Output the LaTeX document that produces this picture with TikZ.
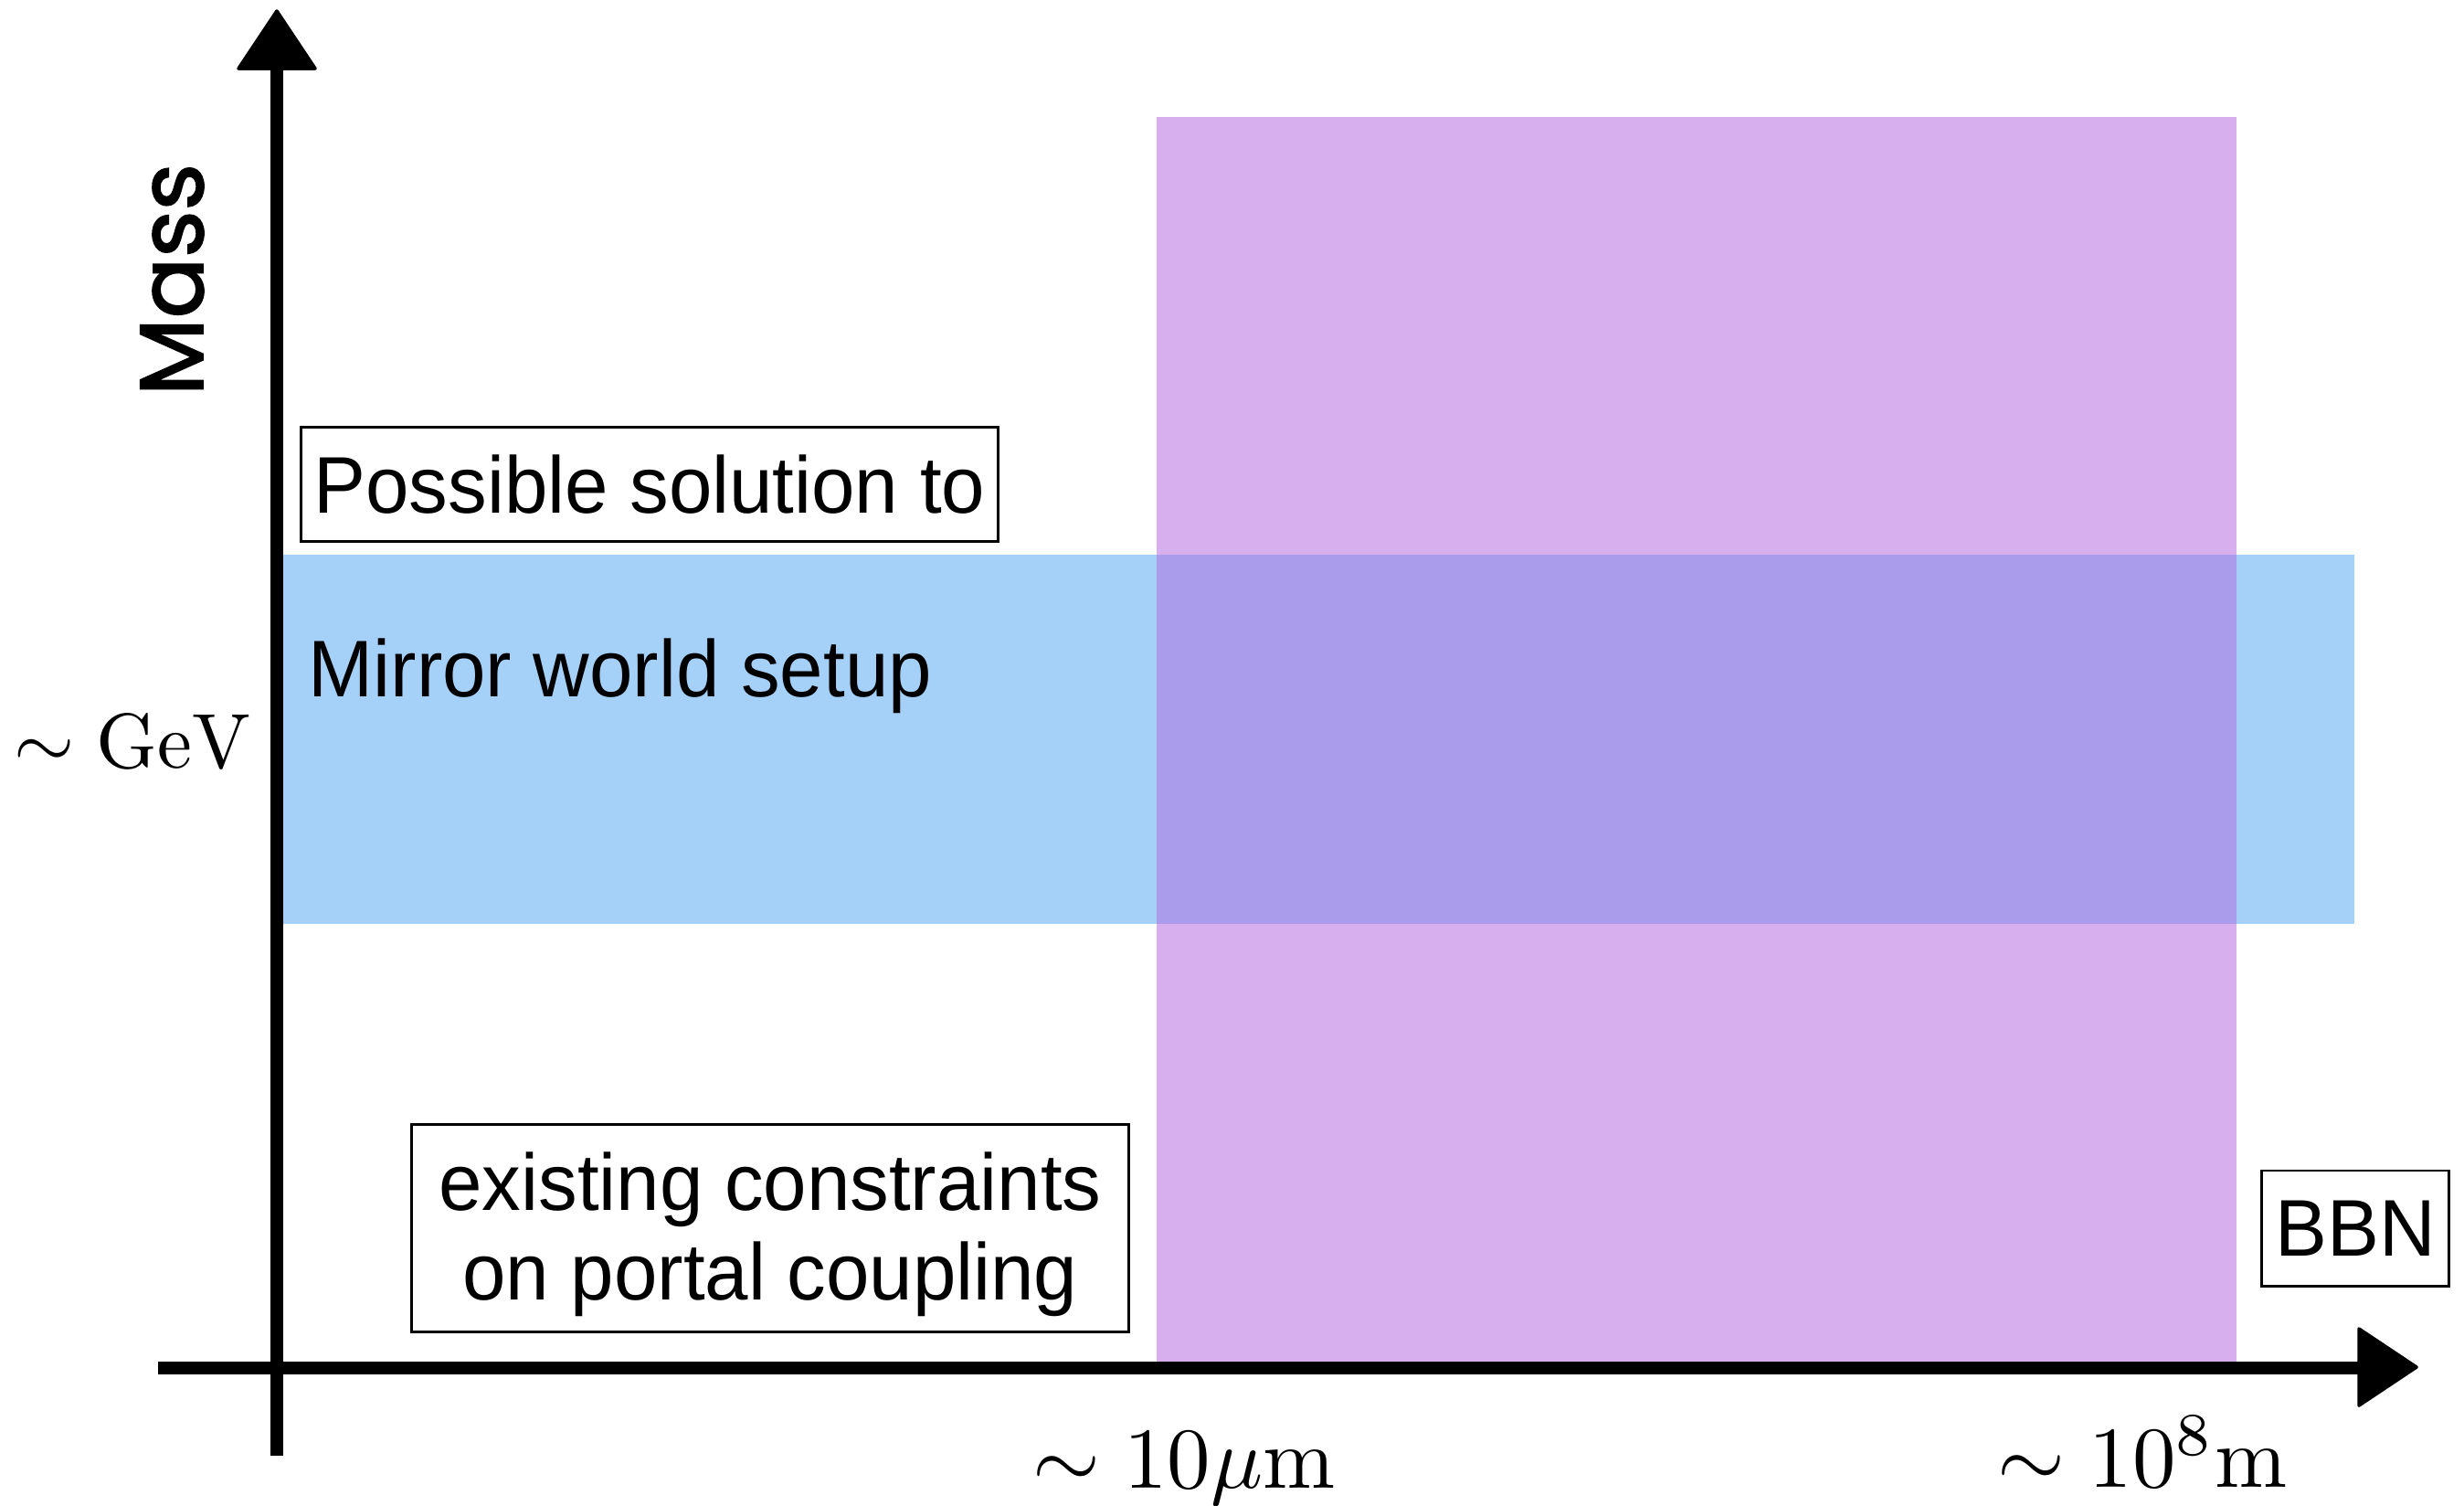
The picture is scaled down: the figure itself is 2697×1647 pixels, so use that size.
\documentclass[tikz,border=0pt]{standalone}
\usepackage[no-math]{fontspec}
\usepackage{graphicx}
\newfontfamily\labelfont[FakeStretch=0.97]{Liberation Sans}
\newfontfamily\handfont[FakeBold=2]{Poppins}
\definecolor{bandblue}{RGB}{165,209,249}
\definecolor{bandpurple}{RGB}{215,175,238}
\definecolor{bandmix}{RGB}{170,156,235}
\tikzset{
  axisline/.style={line width=4pt, black},
  axishead/.style={fill=black, draw=black, line width=1pt, line join=round},
  textbox/.style={draw=black, line width=0.85pt, inner sep=0pt, align=center,
    font=\labelfont\fontsize{25}{27.9}\selectfont},
  sanslabel/.style={inner sep=0pt, font=\labelfont\fontsize{25}{27.9}\selectfont},
  mathlabel/.style={inner sep=0pt},
}
\begin{document}
\begin{tikzpicture}[x=0.01cm, y=-0.01cm]
\useasboundingbox (0,0) rectangle (2697,1647);

% shaded regions: length window, mass band and their overlap
\fill[bandpurple] (1266,128) rectangle (2448,1497);
\fill[bandblue] (303,607) rectangle (1266,1011);
\fill[bandblue] (2448,607) rectangle (2577,1011);
\fill[bandmix] (1266,607) rectangle (2448,1011);

% axes
\coordinate (ybot) at (303,1593);
\coordinate (ytop) at (303,70);
\coordinate (xleft) at (173,1497);
\coordinate (xright) at (2590,1497);
\draw[axisline] (ybot) -- (ytop);
\draw[axisline] (xleft) -- (xright);
\fill[axishead] (303,12) -- (261,75) -- (345,75) -- cycle;
\fill[axishead] (2645,1496) -- (2582,1454) -- (2582,1538) -- cycle;

% axis labels
\node[rotate=90, anchor=base, inner sep=0pt,
  font=\handfont\fontsize{28}{30}\selectfont] (mass) at (222,306) {Mass};
\node[mathlabel, scale=2.42, anchor=base east] (gev) at (277,840) {$\sim\mathrm{GeV}$};
\node[mathlabel, scale=2.7, anchor=base] (micron) at (1296,1628) {$\sim 10\mu\mathrm{m}$};
\node[mathlabel, scale=2.7, anchor=base] (bbnscale) at (2345,1627) {$\sim 10^8\mathrm{m}$};

% boxed captions
\node[textbox, minimum width=7.62cm, minimum height=1.25cm] (solution) at (711,530) {Possible solution to};
\node[sanslabel, anchor=base west] (mirror) at (337,762) {Mirror world setup};
\node[textbox, minimum width=7.84cm, minimum height=2.26cm] (constraints) at (843,1344) {};
\node[sanslabel, anchor=base] (constraintsA) at (843,1324) {existing constraints};
\node[sanslabel, anchor=base] (constraintsB) at (843,1422) {on portal coupling};
\node[textbox, minimum width=2.04cm, minimum height=1.26cm] (bbn) at (2578,1344) {BBN};
\end{tikzpicture}
\end{document}
